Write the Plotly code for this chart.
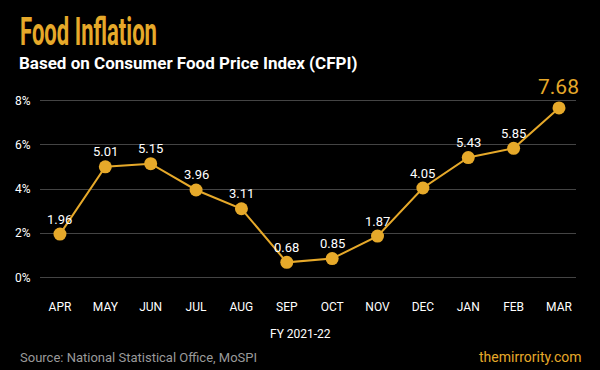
import plotly.graph_objects as go

months = ["APR", "MAY", "JUN", "JUL", "AUG", "SEP", "OCT", "NOV", "DEC", "JAN", "FEB", "MAR"]
inflation = [1.96, 5.01, 5.15, 3.96, 3.11, 0.68, 0.85, 1.87, 4.05, 5.43, 5.85, 7.68]
y_ticks = [0, 2, 4, 6, 8]
y_tick_labels = ["0%", "2%", "4%", "6%", "8%"]

GOLD = "#E6A92A"
idx = list(range(len(months)))

fig = go.Figure()
fig.add_trace(go.Scatter(
    x=idx, y=inflation, mode="lines+markers",
    line=dict(color=GOLD, width=2),
    marker=dict(color=GOLD, size=13),
    hoverinfo="skip", showlegend=False,
))

annotations = []
for i, v in zip(idx, inflation):
    last = i == idx[-1]
    annotations.append(dict(
        x=i, y=v, xref="x", yref="y", text=f"{v:.2f}", showarrow=False,
        yshift=21 if last else 15,
        font=dict(family="Roboto", size=21 if last else 13, color=GOLD if last else "white"),
    ))

annotations += [
    dict(text="<b>Food Inflation</b>", xref="paper", yref="paper",
         x=(18 - 40) / 536, y=1 + (92 - 8) / 192, xanchor="left", yanchor="top",
         showarrow=False,
         font=dict(family="Roboto", size=38, color=GOLD)),
    dict(text="<b>Based on Consumer Food Price Index (CFPI)</b>", xref="paper", yref="paper",
         x=(17 - 40) / 536, y=1 + (92 - 51) / 192, xanchor="left", yanchor="top",
         showarrow=False,
         font=dict(family="Roboto", size=17, color="white")),
    dict(text="FY 2021-22", xref="paper", yref="paper",
         x=(300 - 40) / 536, y=-(334 - 284) / 192, xanchor="center", yanchor="middle",
         showarrow=False,
         font=dict(family="Roboto", size=12, color="white")),
    dict(text="Source: National Statistical Office, MoSPI", xref="paper", yref="paper",
         x=(18 - 40) / 536, y=-(357 - 284) / 192, xanchor="left", yanchor="middle",
         showarrow=False,
         font=dict(family="Roboto", size=13, color="#9a9a9a")),
    dict(text="themirrority.com", xref="paper", yref="paper",
         x=(584 - 40) / 536, y=-(357 - 284) / 192, xanchor="right", yanchor="middle",
         showarrow=False,
         font=dict(family="Roboto", size=14, color=GOLD)),
]

fig.update_layout(
    width=600, height=370,
    paper_bgcolor="black", plot_bgcolor="black",
    margin=dict(l=40, r=24, t=92, b=86),
    xaxis=dict(
        range=[-0.44, 11.375], tickvals=idx, ticktext=months,
        showgrid=False, zeroline=False, showline=False,
        tickfont=dict(color="white", size=12, family="Roboto"),
        ticks="outside", ticklen=12, tickcolor="black",
    ),
    yaxis=dict(
        range=[-0.3, 8.4], tickvals=y_ticks, ticktext=y_tick_labels,
        showgrid=True, gridcolor="#444444", gridwidth=1, zeroline=False,
        tickfont=dict(color="white", size=12, family="Roboto"),
        ticks="outside", ticklen=6, tickcolor="black",
    ),
    annotations=annotations,
)

title_index = len(idx)
post = """
document.body.style.margin = '0';
document.body.style.background = 'black';
var g = document.querySelector('.annotation[data-index="%d"] text');
if (g) {
  var bb = g.getBBox();
  var s = 137 / bb.width;
  var x0 = bb.x;
  g.setAttribute('transform', 'translate(' + x0 + ',0) scale(' + s + ',1) translate(' + (-x0) + ',0)');
}
""" % title_index

fig.write_html("out.html", post_script=post, config={"displayModeBar": False})
